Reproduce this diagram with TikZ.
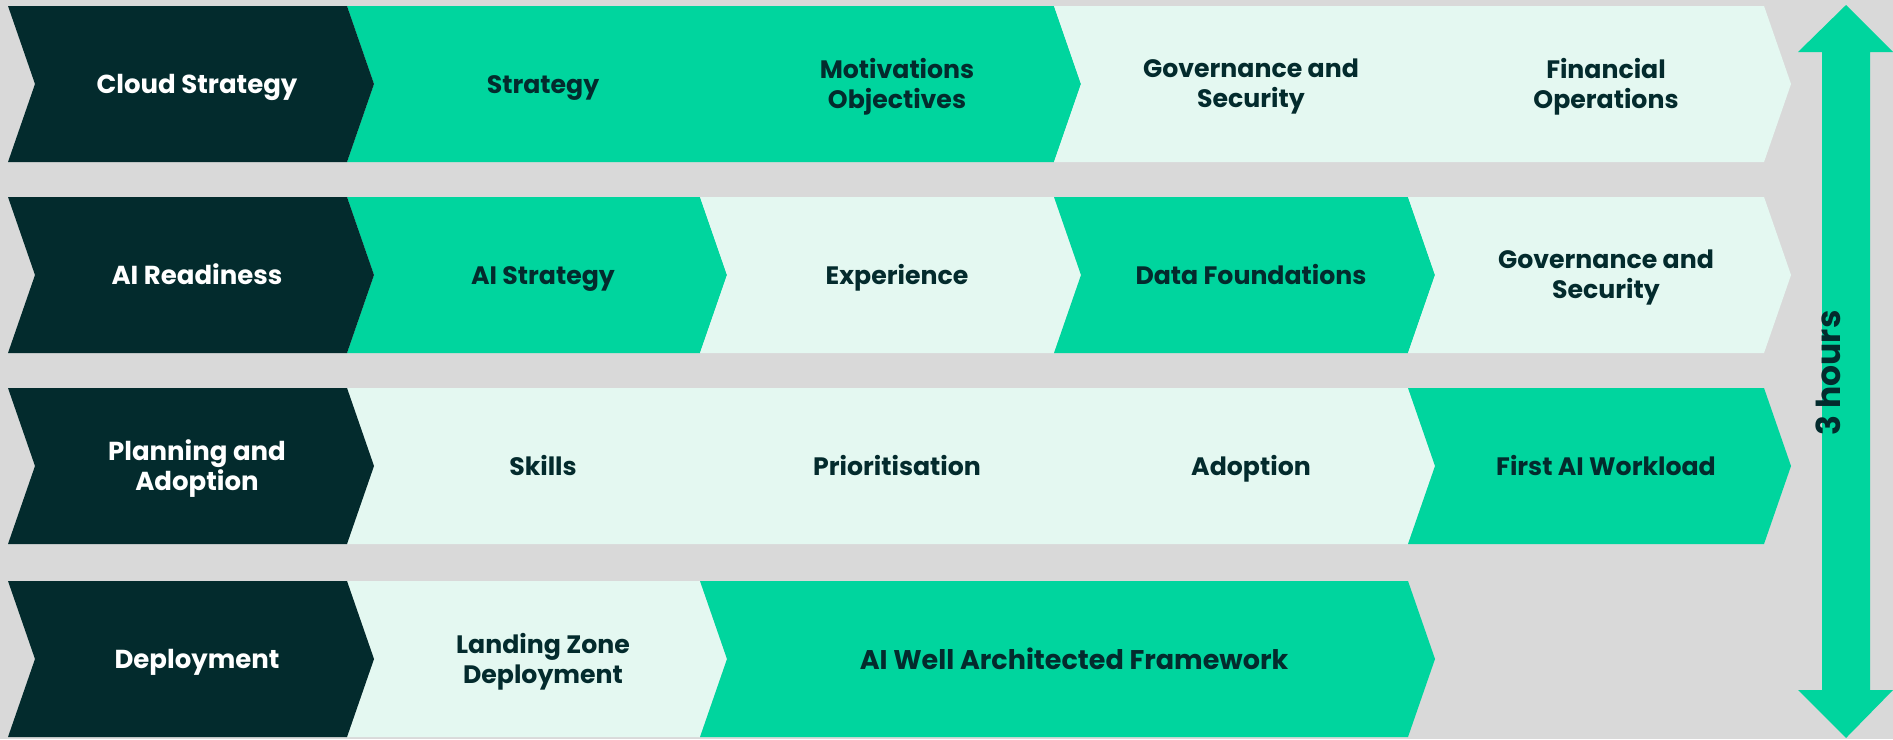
\documentclass[tikz,border=0pt]{standalone}
\usepackage{fontspec}
\setmainfont{Poppins}
\usepackage{tikz}
\usetikzlibrary{calc}
\definecolor{darkteal}{HTML}{032B2D}
\definecolor{mint}{HTML}{00D59E}
\definecolor{pale}{HTML}{E4F8F1}
\definecolor{bggrey}{HTML}{D9D9D9}
\tikzset{lbl/.style={align=center,text=darkteal,
    font=\bfseries\fontsize{12.6}{15}\selectfont,
    execute at end node={\vphantom{lgjpy}}},
  lbldark/.style={lbl,text=white,font=\bfseries\fontsize{13}{15}\selectfont}}
% chevron: colour, left x, right x, row top y
\newcommand{\chev}[4]{\fill[#1] (#2,#4) -- (#3,#4) -- ++(27,78) -- (#3,#4+156)
  -- (#2,#4+156) -- ++(27,-78) -- cycle;}

\begin{document}
\begin{tikzpicture}[x=0.5pt,y=-0.5pt]
    \fill[bggrey] (0,0) rectangle (1893,739);
    \useasboundingbox (0,0) rectangle (1893,739);
    % row 1
    \chev{mint}{347}{1054}{6}
    \chev{pale}{1054}{1764}{6}
    \chev{darkteal}{8}{347}{6}
    \node[lbldark] at (197, 87)   (cs) {Cloud Strategy};
    \node[lbl] at (543, 87)   (strat) {Strategy};
    \node[lbl] at (897, 87)   (motiv) {Motivations\\Objectives};
    \node[lbl] at (1251, 87)   (gov1) {Governance and\\Security};
    \node[lbl] at (1606, 87)   (finops) {Financial\\Operations};
    % row 2
    \chev{mint}{347}{700}{197}
    \chev{pale}{700}{1054}{197}
    \chev{mint}{1054}{1408}{197}
    \chev{pale}{1408}{1764}{197}
    \chev{darkteal}{8}{347}{197}
    \node[lbldark] at (197, 278)   (air) {AI Readiness};
    \node[lbl] at (543, 278)   (aistrat) {AI Strategy};
    \node[lbl] at (897, 278)   (exper) {Experience};
    \node[lbl] at (1251, 278)   (datafound) {Data Foundations};
    \node[lbl] at (1606, 278)   (gov2) {Governance and\\Security};
    % row 3
    \chev{pale}{347}{1408}{388}
    \chev{mint}{1408}{1764}{388}
    \chev{darkteal}{8}{347}{388}
    \node[lbldark] at (197, 469)   (plan) {Planning and\\Adoption};
    \node[lbl] at (543, 469)   (skills) {Skills};
    \node[lbl] at (897, 469)   (prior) {Prioritisation};
    \node[lbl] at (1251, 469)   (adopt) {Adoption};
    \node[lbl] at (1606, 469)   (firstai) {First AI Workload};
    % row 4
    \chev{pale}{347}{700}{581}
    \chev{mint}{700}{1408}{581}
    \chev{darkteal}{8}{347}{581}
    \node[lbldark] at (197, 662)   (deploy) {Deployment};
    \node[lbl] at (543, 662)   (lzd) {Landing Zone\\Deployment};
    \node[lbl,font=\bfseries\fontsize{13.5}{15}\selectfont]
      at (1074, 662)   (waf) {AI Well Architected Framework};
    % time arrow
    \fill[mint] (1846,5) -- (1893,52) -- (1870,52) -- (1870,690) -- (1893,690)
      -- (1846,738) -- (1798,690) -- (1822,690) -- (1822,52) -- (1798,52) -- cycle;
    \node[lbl,rotate=90,anchor=base,execute at end node={},
      font=\bfseries\fontsize{16.5}{18}\selectfont]
      at (1840, 373)   (hours) {3 hours};
    \end{tikzpicture}
\end{document}
